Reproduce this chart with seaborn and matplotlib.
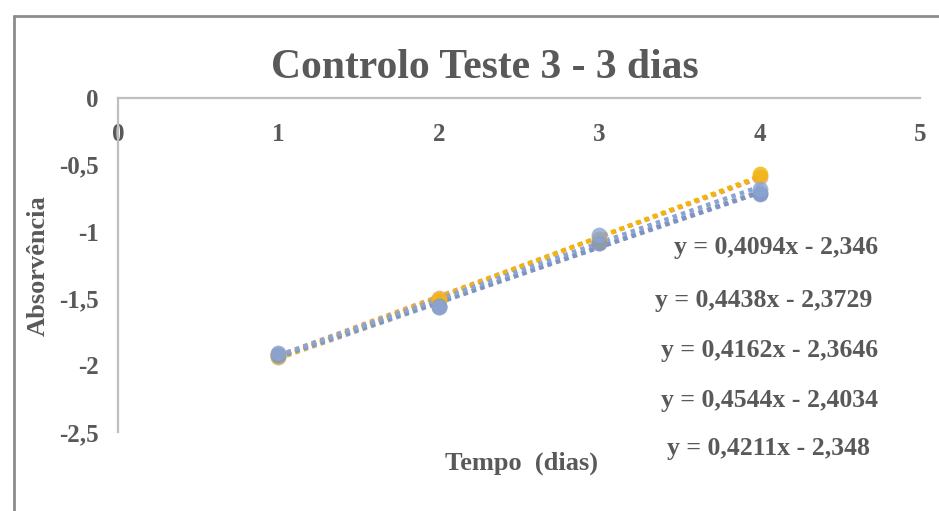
import numpy as np
import pandas as pd
import matplotlib
matplotlib.use("Agg")
import matplotlib.pyplot as plt
from matplotlib.lines import Line2D
import seaborn as sns

# ---------------------------------------------------------------------------
# Data
# ---------------------------------------------------------------------------
days = [1, 2, 3, 4]
serie_1 = [-1.927, -1.557, -1.088, -0.718]
serie_2 = [-1.919, -1.495, -1.052, -0.588]
serie_3 = [-1.938, -1.562, -1.086, -0.710]
serie_4 = [-1.929, -1.515, -1.060, -0.566]
serie_5 = [-1.907, -1.566, -1.025, -0.684]

equations = [
    "y = 0,4094x - 2,346",
    "y = 0,4438x - 2,3729",
    "y = 0,4162x - 2,3646",
    "y = 0,4544x - 2,4034",
    "y = 0,4211x - 2,348",
]

x_ticks = [0, 1, 2, 3, 4, 5]
y_ticks = [0, -0.5, -1, -1.5, -2, -2.5]
y_tick_labels = ["0", "-0,5", "-1", "-1,5", "-2", "-2,5"]

series = {
    "S2": (serie_2, "#E9A060"),
    "S3": (serie_3, "#A5A5A5"),
    "S4": (serie_4, "#F2B705"),
    "S1": (serie_1, "#7B93C6"),
    "S5": (serie_5, "#8AA5D4"),
}

# ---------------------------------------------------------------------------
# Plot
# ---------------------------------------------------------------------------
sns.set_style("white")
plt.rcParams["font.family"] = ["Liberation Serif", "DejaVu Serif"]
plt.rcParams["font.weight"] = "bold"
text_color = "#595959"

fig = plt.figure(figsize=(9.39, 5.11), dpi=100)
ax = fig.add_axes([0.1257, 0.1546, 0.8541, 0.6536])

for name, (values, color) in series.items():
    df = pd.DataFrame({"dias": days, "abs": values})
    sns.regplot(
        data=df, x="dias", y="abs", ax=ax, ci=None, color=color,
        scatter_kws={"s": 130, "linewidths": 0, "zorder": 3},
        line_kws={"linestyle": (0, (1, 1)), "linewidth": 3.2, "zorder": 2},
    )

ax.set_xlim(0, 5)
ax.set_ylim(-2.5, 0)
ax.set_xlabel("")
ax.set_ylabel("")

# Excel style: horizontal axis crosses at y = 0 (top), labels sit below it
for side in ["top", "right"]:
    ax.spines[side].set_visible(False)
ax.spines["bottom"].set_position(("data", 0))
for side in ["left", "bottom"]:
    ax.spines[side].set_color("#BFBFBF")
    ax.spines[side].set_linewidth(1.6)

ax.set_xticks(x_ticks)
ax.set_xticklabels([str(t) for t in x_ticks])
ax.set_yticks(y_ticks)
ax.set_yticklabels(y_tick_labels)
ax.tick_params(axis="x", length=0, pad=18, labelsize=18, labelcolor=text_color)
ax.tick_params(axis="y", length=0, pad=14, labelsize=18, labelcolor=text_color)

fig.text(0.516, 0.867, "Controlo Teste 3 - 3 dias", ha="center", va="center",
         fontsize=30, fontweight="bold", color=text_color)
fig.text(0.555, 0.094, "Tempo  (dias)", ha="center", va="center",
         fontsize=19, fontweight="bold", color=text_color)
fig.text(0.041, 0.48, "Absorvência", ha="center", va="center", rotation=90,
         fontsize=19, fontweight="bold", color=text_color)

eq_pos = [(0.827, 0.515), (0.813, 0.412), (0.820, 0.314), (0.819, 0.217), (0.818, 0.122)]
for eq, (ex, ey) in zip(equations, eq_pos):
    fig.text(ex, ey, eq, ha="center", va="center", fontsize=18.5,
             fontweight="bold", color=text_color)

# outer chart-area border (left and top edges)
fig.add_artist(Line2D([0.015, 0.015], [0.0, 0.969], color="#8C8C8C", linewidth=2))
fig.add_artist(Line2D([0.015, 1.0], [0.969, 0.969], color="#8C8C8C", linewidth=2))

fig.savefig("out.png", dpi=100, facecolor="white")
